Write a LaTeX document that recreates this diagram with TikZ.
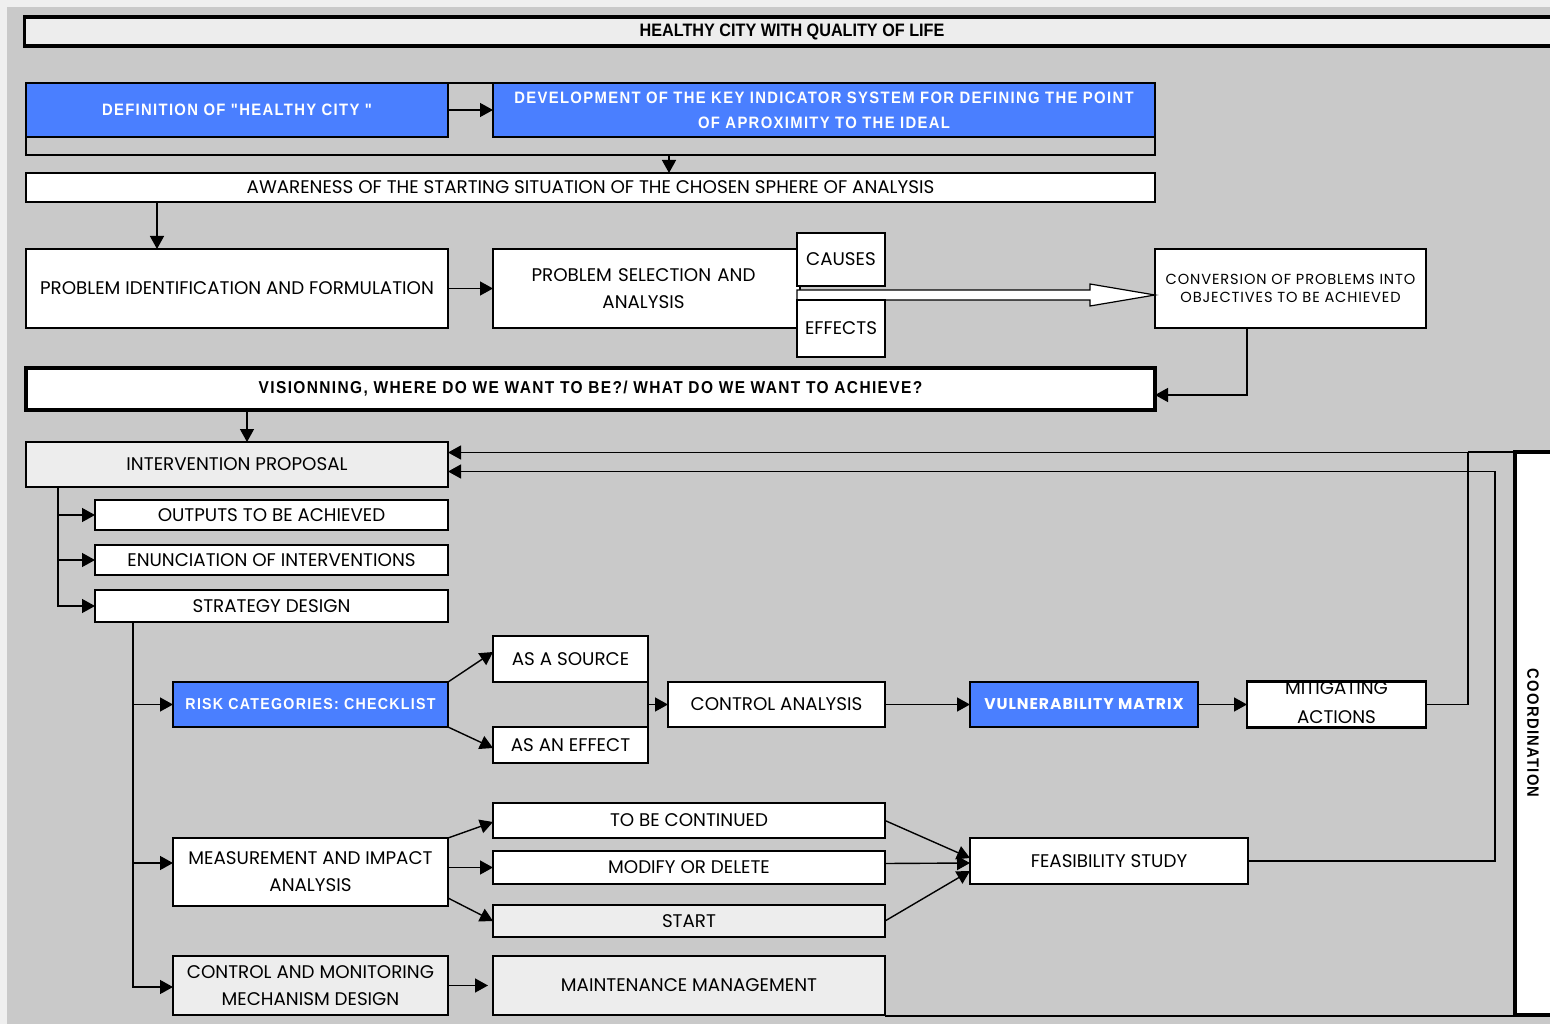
\documentclass[tikz,border=0pt]{standalone}
\usepackage{fontspec}
\setmainfont{Poppins}
\newfontfamily\condb{Liberation Sans}[FakeStretch=0.9]
\newfontfamily\condbsp{Liberation Sans}[FakeStretch=0.9,LetterSpace=8]
\newfontfamily\poppsp{Poppins}[LetterSpace=6]
\usetikzlibrary{arrows.meta,calc}
\definecolor{bgout}{HTML}{EFEFEF}
\definecolor{bggrey}{HTML}{C9C9C9}
\definecolor{lightbox}{HTML}{EDEDED}
\definecolor{boxblue}{HTML}{4A7FFF}
\newcommand\rf{\fontsize{18.3}{27}\selectfont}
\begin{document}
\begin{tikzpicture}[x=1pt,y=-1pt,
  every node/.style={inner sep=0pt,outer sep=0pt},
  box/.style={draw,line width=2.4pt,fill=white,align=center,font=\rf},
  lbox/.style={box,fill=lightbox},
  bbox/.style={box,fill=boxblue,text=white,font={\condbsp\bfseries\fontsize{16.5}{25}\selectfont}},
  arr/.style={line width=1.4pt,-{Triangle[length=13pt,width=14pt]}},
  conn/.style={line width=1.4pt}
]
\useasboundingbox (0,0) rectangle (1550,1024);
\fill[bgout] (0,0) rectangle (1550,1024);
\fill[bggrey] (7,7) rectangle (1550,1024);

% title
\node[box,line width=3.2pt,fill=lightbox,minimum width=1535,minimum height=29,
  font={\condb\bfseries\fontsize{18}{20}\selectfont}] (title) at (792,31.5) {HEALTHY CITY WITH QUALITY OF LIFE};

% top frame and blue boxes
\node[draw,line width=2pt,minimum width=1129,minimum height=72] (frame) at (590.5,119) {};
\node[bbox,minimum width=422,minimum height=54] (def) at (237,110) {DEFINITION OF "HEALTHY CITY "};
\node[bbox,minimum width=662,minimum height=54] (dev) at (824,110) {DEVELOPMENT OF THE KEY INDICATOR SYSTEM FOR DEFINING THE POINT\\OF APROXIMITY TO THE IDEAL};
\draw[arr] (def) -- (dev);

\node[box,minimum width=1129,minimum height=29] (aware) at (590.5,187.5) {AWARENESS OF THE STARTING SITUATION OF THE CHOSEN SPHERE OF ANALYSIS};
\coordinate (fb) at (669,155);
\draw[arr] (fb) -- (fb |- aware.north);

% problem row
\node[box,minimum width=422,minimum height=79] (pid) at (237,288.5) {PROBLEM IDENTIFICATION AND FORMULATION};
\draw[arr] ([xshift=131pt]aware.south west) -- ([xshift=131pt]pid.north west);
\node[box,minimum width=307,minimum height=79,text width=300] (psel) at (646.5,288.5) {\hspace*{-6pt}PROBLEM SELECTION AND\\\hspace*{-6pt}ANALYSIS};
\draw[arr] (pid) -- (psel);
\node[box,minimum width=271,minimum height=79,font={\poppsp\fontsize{14.6}{18}\selectfont}] (conv) at (1290.5,288.5) {CONVERSION OF PROBLEMS INTO\\OBJECTIVES TO BE ACHIEVED};
\coordinate (ha) at ([yshift=-6.5pt]conv.west);
\draw[fill=white,line width=1.2pt] (ha) -- ++(-65,-11) -- ++(0,6) -- ++(-293,0) -- ++(0,10) -- ++(293,0) -- ++(0,6) -- cycle;
\node[box,minimum width=88,minimum height=53] (causes) at (841,259.5) {CAUSES};
\node[box,minimum width=88,minimum height=57] (effects) at (841,328.5) {EFFECTS};

% visioning
\node[box,line width=3.2pt,minimum width=1129,minimum height=42,
  font={\condbsp\bfseries\fontsize{17.2}{20}\selectfont}] (vis) at (590.5,389) {VISIONNING, WHERE DO WE WANT TO BE?/ WHAT DO WE WANT TO ACHIEVE?};
\draw[arr] ([xshift=-43.5pt]conv.south) |- ([yshift=-6pt]vis.east);

% intervention proposal
\node[lbox,minimum width=422,minimum height=45] (ip) at (237,464.5) {INTERVENTION PROPOSAL};
\draw[arr] ([xshift=221pt]vis.south west) -- ([xshift=221pt]vis.south west |- ip.north);
\node[box,minimum width=353,minimum height=30] (out) at (271.5,515) {OUTPUTS TO BE ACHIEVED};
\node[box,minimum width=353,minimum height=30] (enu) at (271.5,560) {ENUNCIATION OF INTERVENTIONS};
\node[box,minimum width=353,minimum height=32] (strat) at (271.5,606) {STRATEGY DESIGN};
\coordinate (ipv) at ([xshift=32pt]ip.south west);
\draw[arr] (ipv) |- (out.west);
\draw[arr] (ipv) |- (enu.west);
\draw[arr] (ipv) |- (strat.west);

% strategy branches
\node[bbox,minimum width=275,minimum height=45,font={\condbsp\bfseries\fontsize{15.8}{25}\selectfont}] (risk) at (310.5,704.5) {RISK CATEGORIES: CHECKLIST};
\node[box,minimum width=275,minimum height=68] (meas) at (310.5,872) {MEASUREMENT AND IMPACT\\ANALYSIS};
\node[lbox,minimum width=275,minimum height=59] (cmm) at (310.5,985.5) {CONTROL AND MONITORING\\MECHANISM DESIGN};
\coordinate (sv) at ([xshift=38pt]strat.south west);
\draw[arr] (sv) |- (risk.west);
\draw[arr] (sv) |- ([yshift=9pt]meas.west);
\draw[arr] (sv) |- ([yshift=-1.5pt]cmm.west);

% risk row
\node[box,minimum width=155,minimum height=46] (src) at (570.5,659) {AS A SOURCE};
\node[box,minimum width=155,minimum height=36] (eff) at (570.5,745) {AS AN EFFECT};
\node[box,minimum width=217,minimum height=45] (ctrl) at (776.5,704.5) {CONTROL ANALYSIS};
\node[box,minimum width=228,minimum height=45,fill=boxblue,text=white,
  font={\poppsp\bfseries\fontsize{15.6}{20}\selectfont}] (vul) at (1084,704.5) {VULNERABILITY MATRIX};
\node[box,minimum width=179,minimum height=45] (mit) at (1336.5,704.5) {\raisebox{6pt}{MITIGATING}\\\raisebox{4pt}{ACTIONS}};
\draw[arr] (risk.north east) -- ([yshift=7pt]src.west);
\draw[arr] (risk.south east) -- ([yshift=-3pt]eff.west);
\draw[conn] (src.south east) -- (eff.north east);
\draw[arr] ($(src.south east)!0.5!(eff.north east)$) -- (ctrl.west);
\draw[arr] (ctrl) -- (vul);
\draw[arr] (vul) -- (mit);

% measurement row
\node[box,minimum width=392,minimum height=35] (tbc) at (689,820.5) {TO BE CONTINUED};
\node[box,minimum width=392,minimum height=33] (mod) at (689,867.5) {MODIFY OR DELETE};
\node[lbox,minimum width=392,minimum height=32] (start) at (689,921) {START};
\node[box,minimum width=278,minimum height=46] (feas) at (1109,861) {FEASIBILITY STUDY};
\draw[arr] (meas.north east) -- ([yshift=-1.5pt]tbc.west);
\draw[arr] (meas.east |- mod.west) -- (mod.west);
\draw[arr] ([yshift=8pt]meas.south east) -- (start.west);
\draw[arr] (tbc.east) -- ([yshift=3pt]feas.west);
\draw[arr] ([yshift=4pt]mod.east) -- ([yshift=-2pt]feas.west);
\draw[arr] (start.east) -- ([yshift=-10pt]feas.west);

% control and monitoring
\node[lbox,minimum width=392,minimum height=59] (maint) at (689,985.5) {MAINTENANCE MANAGEMENT};
\draw[arr,shorten >=5pt] (cmm) -- (maint);

% coordination
\node[draw,line width=3.6pt,fill=white,minimum width=70,minimum height=563] (coord) at (1550,733.5) {};
\node[rotate=-90,font={\condbsp\bfseries\fontsize{16.4}{18}\selectfont}] (coordt) at (1533,733) {COORDINATION};
\draw[line width=2.4pt] ([yshift=-1pt]maint.south east) -- ([yshift=-1pt]maint.south east -| coord.west);

% feedback loops
\coordinate (mc) at ([xshift=42pt]mit.east);
\draw[arr,line width=1.2pt] (mit.east) -- (mc) |- ([yshift=12pt]ip.east);
\draw[line width=2pt] (mc |- coord.north) -- (coord.north west);
\coordinate (fc) at ([xshift=247pt]feas.east);
\draw[arr,line width=1.2pt] (feas.east) -- (fc) |- ([yshift=-7pt]ip.east);
\end{tikzpicture}
\end{document}
